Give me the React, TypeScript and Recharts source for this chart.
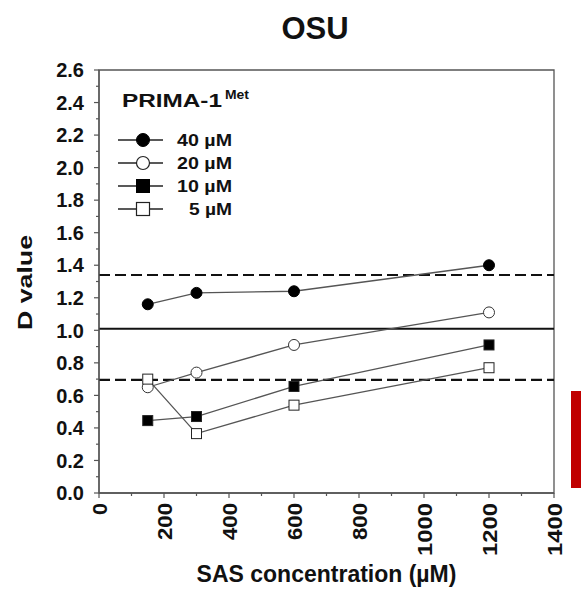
import React from 'react';
import { LineChart, Line, XAxis, YAxis, ReferenceLine, ReferenceArea, Legend } from 'recharts';

const concentrations = [150, 300, 600, 1200];
const d40 = [1.16, 1.23, 1.24, 1.40];
const d20 = [0.65, 0.74, 0.91, 1.11];
const d10 = [0.445, 0.47, 0.655, 0.91];
const d5 = [0.70, 0.365, 0.54, 0.77];
const seriesNames = ['40 µM', '20 µM', '10 µM', '5 µM'];
const refUpper = 1.34;
const refMid = 1.01;
const refLower = 0.695;
const xTicks = [0, 100, 200, 300, 400, 500, 600, 700, 800, 900, 1000, 1100, 1200, 1300, 1400];
const xLabelTicks = [0, 200, 400, 600, 800, 1000, 1200, 1400];
const yTicks = [0, 0.1, 0.2, 0.3, 0.4, 0.5, 0.6, 0.7, 0.8, 0.9, 1.0, 1.1, 1.2, 1.3, 1.4, 1.5, 1.6, 1.7, 1.8, 1.9, 2.0, 2.1, 2.2, 2.3, 2.4, 2.5, 2.6];
const yLabelTicks = [0, 0.2, 0.4, 0.6, 0.8, 1.0, 1.2, 1.4, 1.6, 1.8, 2.0, 2.2, 2.4, 2.6];

const data = concentrations.map((c, i) => ({ conc: c, d40: d40[i], d20: d20[i], d10: d10[i], d5: d5[i] }));

const FONT = '"Liberation Sans", Arial, Helvetica, sans-serif';
const AXIS = '#555';
const LINE = '#555';

const isIn = (arr: number[], v: number) => arr.some((t) => Math.abs(t - v) < 1e-6);

const YTick = (props: any) => {
  const { x, y, payload } = props;
  const major = isIn(yLabelTicks, payload.value);
  return (
    <g>
      <line x1={x - (major ? 5 : 3)} x2={x} y1={y} y2={y} stroke={AXIS} strokeWidth={1.2} />
      {major && (
        <text x={x - 15} y={y} dy="0.36em" textAnchor="end" fontFamily={FONT} fontWeight="bold" fontSize={20} fill="#111">
          {payload.value.toFixed(1)}
        </text>
      )}
    </g>
  );
};

const XTick = (props: any) => {
  const { x, y, payload } = props;
  const major = isIn(xLabelTicks, payload.value);
  const label = String(payload.value);
  const len = label.length === 1 ? 12 : label.length === 3 ? 37 : 53;
  return (
    <g>
      <line x1={x} x2={x} y1={y} y2={y + (major ? 5 : 3)} stroke={AXIS} strokeWidth={1.2} />
      {major && (
        <text
          x={x}
          y={y + 10}
          dy="0.36em"
          textAnchor="end"
          transform={`rotate(-90, ${x}, ${y + 10})`}
          fontFamily={FONT}
          fontWeight="bold"
          fontSize={21}
          textLength={len}
          lengthAdjust="spacingAndGlyphs"
          fill="#111"
        >
          {label}
        </text>
      )}
    </g>
  );
};

const XLabel = (props: any) => {
  const vb = props.viewBox || {};
  return (
    <text x={vb.x + vb.width / 2} y={vb.y + 89} textAnchor="middle" fontFamily={FONT} fontWeight="bold" fontSize={23} fill="#111">
      SAS concentration (µM)
    </text>
  );
};

const YLabel = (props: any) => {
  const vb = props.viewBox || {};
  const cx = 32;
  const cy = vb.y + vb.height / 2 + 1;
  return (
    <text
      x={cx}
      y={cy}
      textAnchor="middle"
      transform={`rotate(-90, ${cx}, ${cy})`}
      fontFamily={FONT}
      fontWeight="bold"
      fontSize={21}
      textLength={95}
      lengthAdjust="spacingAndGlyphs"
      fill="#111"
    >
      D value
    </text>
  );
};

const squareDot = (fill: string) => (p: any) => (
  <rect key={`sq-${p.index}`} x={p.cx - 5} y={p.cy - 5} width={10} height={10} fill={fill} stroke="#222" strokeWidth={1} />
);

const legendMarkers = ['circleFill', 'circleOpen', 'squareFill', 'squareOpen'];

const renderLegend = (props: any) => {
  const payload = [...(props.payload || [])].sort(
    (a: any, b: any) => seriesNames.indexOf(String(a.value)) - seriesNames.indexOf(String(b.value))
  );
  const rows = [140, 163, 186, 209];
  return (
    <svg width={586} height={593} style={{ position: 'absolute', left: 0, top: 0, pointerEvents: 'none' }}>
      <text x={122} y={107} fontFamily={FONT} fontWeight="bold" fontSize={19} textLength={100} lengthAdjust="spacingAndGlyphs" fill="#111">
        PRIMA-1
      </text>
      <text x={225} y={99} fontFamily={FONT} fontWeight="bold" fontSize={13} textLength={24} lengthAdjust="spacingAndGlyphs" fill="#111">
        Met
      </text>
      {payload.map((entry: any, i: number) => {
        const y = rows[i];
        const name = String(entry.value);
        const m = legendMarkers[seriesNames.indexOf(name)];
        return (
          <g key={name}>
            <line x1={118} x2={163} y1={y} y2={y} stroke="#222" strokeWidth={1.5} />
            {m === 'circleFill' && <circle cx={143} cy={y} r={6.5} fill="#000" stroke="#000" />}
            {m === 'circleOpen' && <circle cx={143} cy={y} r={6.5} fill="#fff" stroke="#222" strokeWidth={1.2} />}
            {m === 'squareFill' && <rect x={136.5} y={y - 6.5} width={13} height={13} fill="#000" stroke="#000" />}
            {m === 'squareOpen' && <rect x={136.5} y={y - 6.5} width={13} height={13} fill="#fff" stroke="#222" strokeWidth={1.2} />}
            <text
              x={232}
              y={y}
              dy="0.36em"
              textAnchor="end"
              fontFamily={FONT}
              fontWeight="bold"
              fontSize={16}
              textLength={name.length > 4 ? 55 : 43}
              lengthAdjust="spacingAndGlyphs"
              fill="#111"
            >
              {name}
            </text>
          </g>
        );
      })}
    </svg>
  );
};

export default function App() {
  return (
    <div style={{ position: 'absolute', left: 0, top: 0, width: 586, height: 593, background: '#fff' }}>
      <LineChart width={586} height={593} data={data} margin={{ top: 70, right: 32, bottom: 0, left: 0 }}>
        <XAxis
          dataKey="conc"
          type="number"
          domain={[0, 1400]}
          ticks={xTicks}
          interval={0}
          height={100}
          tickSize={0}
          tickMargin={0}
          tickLine={false}
          tick={<XTick />}
          axisLine={{ stroke: AXIS, strokeWidth: 1.3 }}
          label={<XLabel />}
        />
        <YAxis
          type="number"
          domain={[0, 2.6]}
          ticks={yTicks}
          interval={0}
          width={99}
          tickSize={0}
          tickMargin={0}
          tickLine={false}
          tick={<YTick />}
          axisLine={{ stroke: AXIS, strokeWidth: 1.3 }}
          label={<YLabel />}
        />
        <ReferenceArea x1={0} x2={1400} y1={0} y2={2.6} fill="none" fillOpacity={0} stroke={AXIS} strokeWidth={1.3} />
        <ReferenceLine y={refUpper} stroke="#111" strokeWidth={2.2} strokeDasharray="11 5" />
        <ReferenceLine y={refMid} stroke="#111" strokeWidth={2} />
        <ReferenceLine y={refLower} stroke="#111" strokeWidth={2.2} strokeDasharray="11 5" />
        <Line
          dataKey="d40"
          name={seriesNames[0]}
          stroke={LINE}
          strokeWidth={1.3}
          dot={{ r: 5.5, fill: '#000', stroke: '#000', strokeWidth: 1 }}
          activeDot={false}
          isAnimationActive={false}
        />
        <Line
          dataKey="d20"
          name={seriesNames[1]}
          stroke={LINE}
          strokeWidth={1.3}
          dot={{ r: 5.5, fill: '#fff', stroke: '#333', strokeWidth: 1 }}
          activeDot={false}
          isAnimationActive={false}
        />
        <Line
          dataKey="d10"
          name={seriesNames[2]}
          stroke={LINE}
          strokeWidth={1.3}
          dot={squareDot('#000')}
          activeDot={false}
          isAnimationActive={false}
        />
        <Line
          dataKey="d5"
          name={seriesNames[3]}
          stroke={LINE}
          strokeWidth={1.3}
          dot={squareDot('#fff')}
          activeDot={false}
          isAnimationActive={false}
        />
        <Legend
          layout="vertical"
          align="center"
          verticalAlign="middle"
          content={renderLegend}
          wrapperStyle={{ left: 0, top: 0, width: 0, height: 0, overflow: 'visible' }}
        />
      </LineChart>
      <svg width={586} height={593} style={{ position: 'absolute', left: 0, top: 0, pointerEvents: 'none' }}>
        <text x={315} y={39} textAnchor="middle" fontFamily={FONT} fontWeight="bold" fontSize={31} fill="#111">
          OSU
        </text>
      </svg>
      <div style={{ position: 'absolute', left: 571, top: 391, width: 10, height: 97, background: '#c00000' }} />
    </div>
  );
}
